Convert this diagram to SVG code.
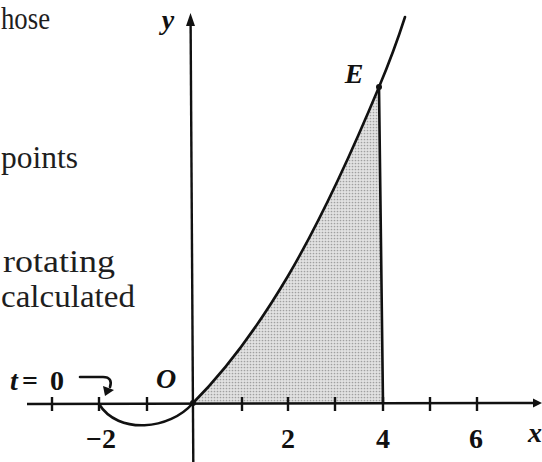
<svg xmlns="http://www.w3.org/2000/svg" width="542" height="462" viewBox="0 0 542 462">
<defs>
<style>
.txt{font-family:'Liberation Serif','Times New Roman',serif;font-size:31px;fill:#1e1e1e;font-weight:normal}
.lbl{font-family:'Liberation Serif','Times New Roman',serif;font-size:28px;font-weight:bold;fill:#111}
.it{font-style:italic}
.ax{stroke:#111;stroke-width:2.4;fill:none}
.tick{stroke:#111;stroke-width:2.4}
.crv{stroke:#111;stroke-width:2.6;fill:none;stroke-linecap:round}
</style>
<pattern id="dots" width="3" height="3" patternUnits="userSpaceOnUse">
<rect width="3" height="3" fill="#e2e2e2"/>
<circle cx="1.5" cy="1.5" r="0.85" fill="#a0a0a0"/>
</pattern>
</defs>
<rect width="542" height="462" fill="#fff"/>
<g id="body-text" font-family="Liberation Serif, Times New Roman, serif">
<text class="txt" x="1" y="29" textLength="49" lengthAdjust="spacingAndGlyphs">hose</text>
<text class="txt" x="1" y="168" textLength="77" lengthAdjust="spacingAndGlyphs">points</text>
<text class="txt" x="3" y="272" textLength="112" lengthAdjust="spacingAndGlyphs">rotating</text>
<text class="txt" x="1" y="307" textLength="134" lengthAdjust="spacingAndGlyphs">calculated</text>
</g>
<g id="region">
<path d="M193,403 C225,371 256,330 288,276 C318,225 349,159 379,87 L383,403 Z" fill="url(#dots)" stroke="none"/>
</g>
<g id="axes">
<line class="ax" x1="27" y1="404" x2="536" y2="403"/>
<polygon points="542,403 533,398.5 533,407.5" fill="#111"/>
<line class="ax" x1="193.3" y1="462" x2="190.6" y2="22"/>
<polygon points="190.5,13 186,26 195,26" fill="#111"/>
<g id="ticks">
<line class="tick" x1="52" y1="397" x2="52" y2="411"/>
<line class="tick" x1="99" y1="397" x2="99" y2="411"/>
<line class="tick" x1="147" y1="397" x2="147" y2="411"/>
<line class="tick" x1="242" y1="397" x2="242" y2="411"/>
<line class="tick" x1="288" y1="397" x2="288" y2="411"/>
<line class="tick" x1="335" y1="397" x2="335" y2="411"/>
<line class="tick" x1="383" y1="397" x2="383" y2="411"/>
<line class="tick" x1="430" y1="397" x2="430" y2="411"/>
<line class="tick" x1="477" y1="397" x2="477" y2="411"/>
</g>
</g>
<g id="curve">
<path class="crv" d="M99,404 C118,435 170,430 193,403 C225,371 256,330 288,276 C318,225 349,159 379,87 C387,68 397,42 405,17"/>
<line class="crv" x1="379" y1="87" x2="383" y2="403" stroke-width="2.2"/>
<circle cx="379" cy="87" r="3" fill="#111"/>
<circle cx="193" cy="403" r="3" fill="#111"/>
</g>
<g id="t0-arrow">
<path class="crv" d="M80,377 H103 C110,377 112,381 110,387" stroke-width="2.2"/>
<polygon points="105,396 103,386 114,390" fill="#111"/>
</g>
<g id="labels">
<text class="lbl it" x="168" y="29" text-anchor="middle">y</text>
<text class="lbl it" x="354" y="83" text-anchor="middle">E</text>
<text class="lbl it" x="166" y="388" text-anchor="middle">O</text>
<text class="lbl" y="390"><tspan class="it" x="10">t</tspan><tspan x="22">=</tspan><tspan x="50">0</tspan></text>
<text class="lbl" x="101" y="448" text-anchor="middle">−2</text>
<text class="lbl" x="288" y="448" text-anchor="middle">2</text>
<text class="lbl" x="383" y="448" text-anchor="middle">4</text>
<text class="lbl" x="476" y="448" text-anchor="middle">6</text>
<text class="lbl it" x="528" y="442">x</text>
</g>
</svg>
